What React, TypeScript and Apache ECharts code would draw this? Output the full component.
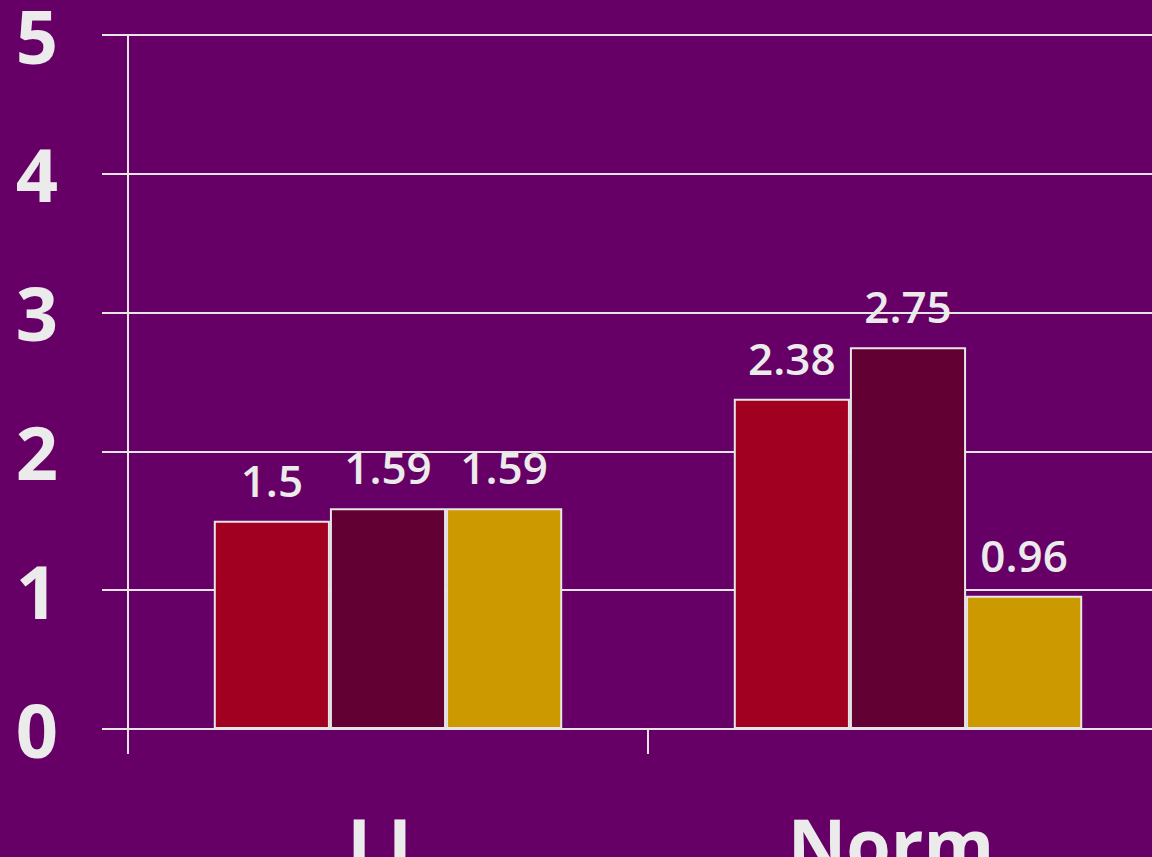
import React, { useEffect, useRef } from "react";
import * as echarts from "echarts";

const categories = ["LL", "Norm"];
const seriesA = [1.5, 2.38];
const seriesB = [1.59, 2.75];
const seriesC = [1.59, 0.96];
const seriesColors = ["#a20021", "#620033", "#cc9900"];

const LINE = "#e6e6e6";
const TEXT = "#ebebeb";
const FONT = "'Open Sans', sans-serif";

export default function App() {
  const ref = useRef<HTMLDivElement>(null);
  useEffect(() => {
    const chart = echarts.init(ref.current!, null, { renderer: "svg" });
    const mk = (name: string, data: number[], color: string) => ({
      name,
      type: "bar",
      data,
      barGap: "0%",
      barCategoryGap: "33%",
      itemStyle: { color, borderColor: LINE, borderWidth: 2 },
      label: {
        show: true,
        position: "top",
        distance: 19,
        color: TEXT,
        fontFamily: FONT,
        fontWeight: 600,
        fontSize: 44,
      },
    });
    chart.setOption({
      animation: false,
      backgroundColor: "#660066",
      grid: { left: 128, top: 35, right: -16, bottom: 128, outerBoundsMode: "none", containLabel: false },
      xAxis: {
        type: "category",
        data: categories,
        axisLine: { show: true, lineStyle: { color: LINE, width: 2 } },
        axisTick: { show: true, length: 25, lineStyle: { color: LINE, width: 2 } },
        axisLabel: {
          color: TEXT,
          fontFamily: FONT,
          fontWeight: "bold",
          fontSize: 72,
          margin: 78,
          formatter: (v: string) => (v === "Norm" ? `{n|${v}}` : `{l|${v}}`),
          rich: {
            n: { color: TEXT, fontFamily: FONT, fontWeight: "bold", fontSize: 72, padding: [0, 34, 0, 0] },
            l: { color: TEXT, fontFamily: FONT, fontWeight: "bold", fontSize: 72 },
          },
        },
        splitLine: { show: false },
      },
      yAxis: {
        type: "value",
        min: 0,
        max: 5,
        interval: 1,
        axisLine: { show: true, lineStyle: { color: LINE, width: 2 } },
        axisTick: { show: true, length: 26, lineStyle: { color: LINE, width: 2 } },
        axisLabel: { color: TEXT, fontFamily: FONT, fontWeight: "bold", fontSize: 74, margin: 70 },
        splitLine: { show: true, lineStyle: { color: LINE, width: 2 } },
      },
      series: [
        mk("A", seriesA, seriesColors[0]),
        mk("B", seriesB, seriesColors[1]),
        mk("C", seriesC, seriesColors[2]),
      ],
    });
    return () => chart.dispose();
  }, []);
  return (
    <div
      ref={ref}
      style={{ position: "fixed", left: 0, top: 0, width: 1152, height: 857 }}
    />
  );
}
